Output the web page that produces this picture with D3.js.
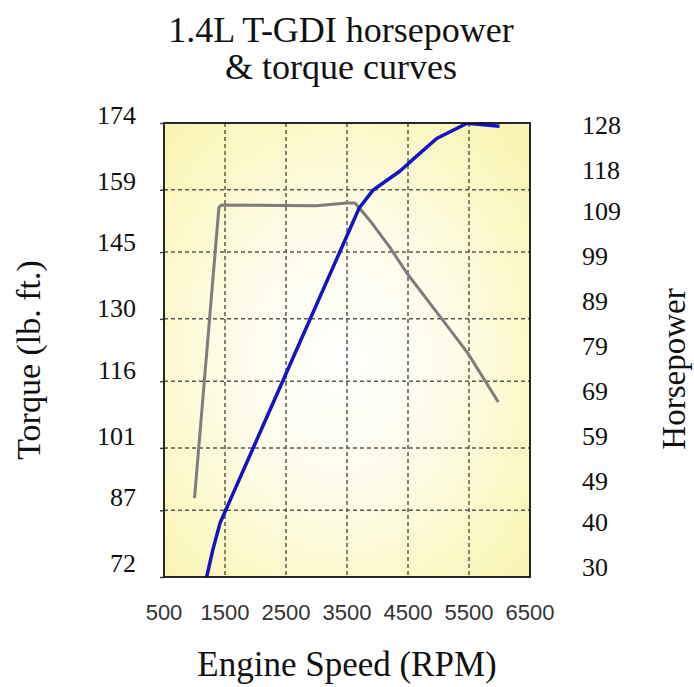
<!DOCTYPE html>
<html>
<head>
<meta charset="utf-8">
<script src="https://cdn.jsdelivr.net/npm/d3@7"></script>
<style>
  body { margin: 0; background: #fff; }
  .serif { font-family: "Liberation Serif", "Times New Roman", serif; fill: #111; }
  .xtick { font-family: "Liberation Sans Narrow", "Arial Narrow", "Liberation Sans", sans-serif; font-stretch: condensed; fill: #333; }
</style>
</head>
<body>
<div id="chart"></div>
<script>
// Axis ticks
const rpmTicks = [500, 1500, 2500, 3500, 4500, 5500, 6500];
const torqueTicks = [72, 87, 101, 116, 130, 145, 159, 174];
const hpTicks = [30, 40, 49, 59, 69, 79, 89, 99, 109, 118, 128];

// Torque curve (lb. ft.)
const torqueRpm = [1000, 1400, 1440, 3000, 3500, 3630, 3710, 3880, 4200, 4480, 5070, 5480, 5980];
const torqueVal = [89.7, 155.0, 155.6, 155.4, 156.0, 156.0, 154.8, 152.0, 146.1, 140.3, 129.7, 122.3, 111.3];

// Horsepower curve
const hpRpm = [1200, 1300, 1420, 3700, 3930, 4370, 4600, 4970, 5470, 6000];
const hpVal = [27.8, 33.8, 39.8, 109.6, 113.6, 117.8, 120.6, 125.0, 128.4, 127.7];

const width = 694;
const height = 687;
const plot = { left: 164, right: 530, top: 123, bottom: 577 };

const svg = d3.select("#chart").append("svg")
    .attr("width", width)
    .attr("height", height);

const x = d3.scaleLinear().domain([500, 6500]).range([plot.left, plot.right]);
const yT = d3.scaleLinear().domain([72, 174]).range([plot.bottom, plot.top]);
const yH = d3.scaleLinear().domain([30, 128]).range([567, 125]);
// left labels sit a little above their grid lines
const yTLabel = d3.scaleLinear().domain([72, 174]).range([563, 115]);

// background gradient
const defs = svg.append("defs");
const grad = defs.append("radialGradient")
    .attr("id", "bg")
    .attr("cx", "48%").attr("cy", "52%").attr("r", "66%");
grad.append("stop").attr("offset", "0%").attr("stop-color", "#ffffff");
grad.append("stop").attr("offset", "45%").attr("stop-color", "#fefdea");
grad.append("stop").attr("offset", "100%").attr("stop-color", "#f9f5b4");

defs.append("clipPath").attr("id", "clip")
  .append("rect")
    .attr("x", plot.left).attr("y", plot.top)
    .attr("width", plot.right - plot.left)
    .attr("height", plot.bottom - plot.top);

svg.append("rect")
    .attr("x", plot.left).attr("y", plot.top)
    .attr("width", plot.right - plot.left)
    .attr("height", plot.bottom - plot.top)
    .attr("fill", "url(#bg)");

// grid
const grid = svg.append("g")
    .attr("stroke", "#5a5a50")
    .attr("stroke-width", 1.5)
    .attr("stroke-dasharray", "4,3");

grid.selectAll(".vgrid")
    .data(rpmTicks.slice(1, -1))
    .enter().append("line")
    .attr("x1", d => x(d)).attr("x2", d => x(d))
    .attr("y1", plot.top).attr("y2", plot.bottom);

grid.selectAll(".hgrid")
    .data(torqueTicks.slice(1, -1))
    .enter().append("line")
    .attr("x1", plot.left).attr("x2", plot.right)
    .attr("y1", d => yT(d)).attr("y2", d => yT(d));

// small ticks on the left frame
svg.append("g")
    .attr("transform", `translate(${plot.left},0)`)
    .call(d3.axisLeft(yT).tickValues(torqueTicks).tickSize(4).tickFormat(""))
    .call(g => g.select(".domain").remove())
    .call(g => g.selectAll("line").attr("stroke", "#444").attr("stroke-width", 1.5));

// lines
const lines = svg.append("g").attr("clip-path", "url(#clip)").attr("fill", "none");

lines.append("path")
    .datum(torqueRpm.map((r, i) => [r, torqueVal[i]]))
    .attr("stroke", "#7d7d7d")
    .attr("stroke-width", 3)
    .attr("stroke-linejoin", "round")
    .attr("d", d3.line().x(d => x(d[0])).y(d => yT(d[1])));

lines.append("path")
    .datum(hpRpm.map((r, i) => [r, hpVal[i]]))
    .attr("stroke", "#1414c0")
    .attr("stroke-width", 3.5)
    .attr("stroke-linejoin", "round")
    .attr("d", d3.line().x(d => x(d[0])).y(d => yH(d[1])));

// frame
svg.append("rect")
    .attr("x", plot.left).attr("y", plot.top)
    .attr("width", plot.right - plot.left)
    .attr("height", plot.bottom - plot.top)
    .attr("fill", "none")
    .attr("stroke", "#111")
    .attr("stroke-width", 1.8);

// x tick labels
svg.selectAll(".xtick")
    .data(rpmTicks)
    .enter().append("text")
    .attr("class", "xtick")
    .attr("x", d => x(d))
    .attr("y", 620)
    .attr("text-anchor", "middle")
    .attr("font-size", 22)
    .text(d => d);

// left tick labels
svg.selectAll(".ltick")
    .data(torqueTicks)
    .enter().append("text")
    .attr("class", "serif")
    .attr("x", 136)
    .attr("y", d => yTLabel(d))
    .attr("dy", "0.35em")
    .attr("text-anchor", "end")
    .attr("font-size", 26)
    .text(d => d);

// right tick labels
svg.selectAll(".rtick")
    .data(hpTicks)
    .enter().append("text")
    .attr("class", "serif")
    .attr("x", 582)
    .attr("y", d => yH(d))
    .attr("dy", "0.35em")
    .attr("font-size", 26)
    .text(d => d);

// titles
svg.append("text")
    .attr("class", "serif")
    .attr("x", 341).attr("y", 42)
    .attr("text-anchor", "middle")
    .attr("font-size", 36)
    .text("1.4L T-GDI horsepower");

svg.append("text")
    .attr("class", "serif")
    .attr("x", 341).attr("y", 79)
    .attr("text-anchor", "middle")
    .attr("font-size", 36)
    .text("& torque curves");

svg.append("text")
    .attr("class", "serif")
    .attr("x", 347).attr("y", 676)
    .attr("text-anchor", "middle")
    .attr("font-size", 35)
    .text("Engine Speed (RPM)");

svg.append("text")
    .attr("class", "serif")
    .attr("transform", "translate(40,360) rotate(-90)")
    .attr("text-anchor", "middle")
    .attr("font-size", 34)
    .text("Torque (lb. ft.)");

svg.append("text")
    .attr("class", "serif")
    .attr("transform", "translate(685,369) rotate(-90)")
    .attr("text-anchor", "middle")
    .attr("font-size", 33)
    .text("Horsepower");
</script>
</body>
</html>
